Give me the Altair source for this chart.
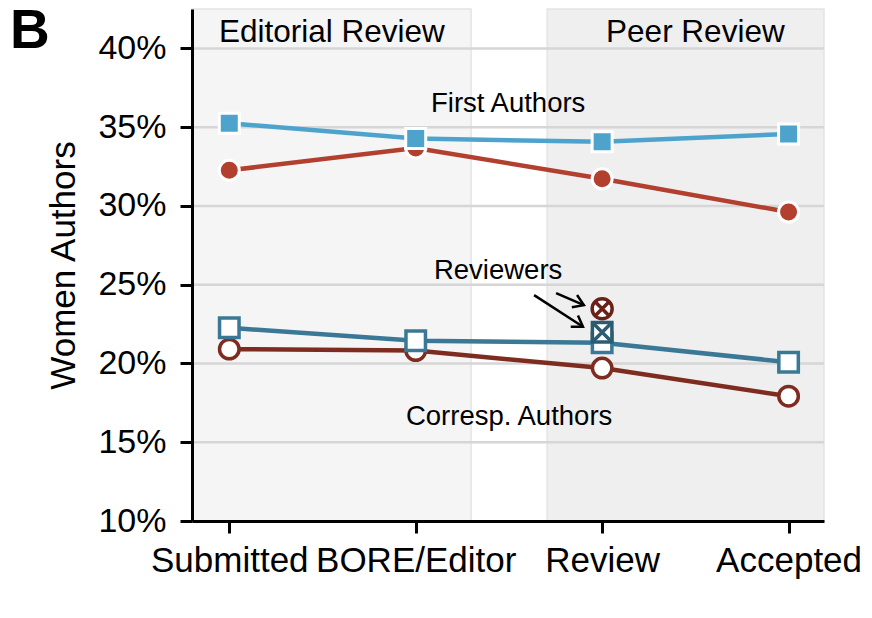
import json
import altair as alt
import pandas as pd

# ---------------- data ----------------
stages = ["Submitted", "BORE/Editor", "Review", "Accepted"]
stage_pos = [0, 1, 2, 3]

first_sq = [35.25, 34.28, 34.07, 34.57]      # First Authors, blue filled squares
first_ci = [32.26, 33.68, 31.72, 29.61]      # First Authors, red filled circles
corr_sq = [22.26, 21.44, 21.32, 20.08]       # Corresp. Authors, blue open squares
corr_ci = [20.91, 20.82, 19.71, 17.92]       # Corresp. Authors, red open circles
reviewer_ci = 23.47                          # Reviewers (red, at Review)
reviewer_sq = 21.98                          # Reviewers (blue, at Review)

y_ticks = [10, 15, 20, 25, 30, 35, 40]
grid_vals = [15, 20, 25, 30, 35, 40]

X_DOMAIN = [-0.2, 3.19]
Y_DOMAIN = [10, 42.5]
W, H = 632, 512
FONT = "Liberation Sans"

C_FIRST_SQ = "#4ea3cd"
C_FIRST_CI = "#b33f2f"
C_CORR_SQ = "#3a7896"
C_CORR_CI = "#7e2c20"
C_REV_CI = "#6a2218"
C_REV_SQ = "#2d5c72"

xs = alt.Scale(domain=X_DOMAIN, nice=False, zero=False)
ys = alt.Scale(domain=Y_DOMAIN, nice=False, zero=False)

x_axis = alt.Axis(
    values=stage_pos,
    labelExpr=json.dumps(stages) + "[datum.value]",
    title=None, grid=False, labelOverlap=False, labelFlush=False, labelBound=False,
    labelLimit=0,
    labelFont=FONT, labelFontSize=35, labelColor="black", labelPadding=10,
    domainColor="black", domainWidth=3, tickColor="black", tickWidth=3, tickSize=12,
    zindex=1,
)
y_axis = alt.Axis(
    values=y_ticks,
    labelExpr="datum.value + '%'",
    title="Women Authors", grid=False, labelOverlap=False, labelFlush=False,
    labelLimit=0,
    labelFont=FONT, labelFontSize=34, labelColor="black", labelPadding=14,
    titleFont=FONT, titleFontSize=35, titleFontWeight="normal", titleColor="black",
    titlePadding=16,
    domainColor="black", domainWidth=3, tickColor="black", tickWidth=3, tickSize=12,
    zindex=1,
)

def X(field="x"):
    return alt.X(f"{field}:Q", scale=xs, axis=x_axis)

def Y(field="y"):
    return alt.Y(f"{field}:Q", scale=ys, axis=y_axis)

# ---------------- background panels ----------------
panels = pd.DataFrame({
    "x": [X_DOMAIN[0], 1.705],
    "x2": [1.297, X_DOMAIN[1]],
    "y": [Y_DOMAIN[0]] * 2,
    "y2": [Y_DOMAIN[1]] * 2,
    "c": ["#f5f5f5", "#efefef"],
})
shade = alt.Chart(panels).mark_rect(stroke="#e4e4e4", strokeWidth=1.5).encode(
    x=X("x"), x2="x2", y=Y("y"), y2="y2",
    fill=alt.Fill("c:N", scale=None),
)

grid = alt.Chart(pd.DataFrame({"y": grid_vals})).mark_rule(
    color="#d6d6d6", strokeWidth=2.5
).encode(y=Y("y"))

# ---------------- series ----------------
def series(vals, color, shape, filled, size):
    df = pd.DataFrame({"x": stage_pos, "y": vals})
    line = alt.Chart(df).mark_line(color=color, strokeWidth=4.5).encode(x=X(), y=Y())
    if filled:
        pts = alt.Chart(df).mark_point(
            shape=shape, filled=True, fill=color, stroke="white", strokeWidth=3,
            size=size, opacity=1,
        ).encode(x=X(), y=Y())
    else:
        pts = alt.Chart(df).mark_point(
            shape=shape, filled=True, fill="white", stroke=color, strokeWidth=3.5,
            size=size, opacity=1,
        ).encode(x=X(), y=Y())
    return [line, pts]

layers = [shade, grid]
layers += series(first_ci, C_FIRST_CI, "circle", True, 400)
layers += series(first_sq, C_FIRST_SQ, "square", True, 400)
layers += series(corr_ci, C_CORR_CI, "circle", False, 380)
layers += series(corr_sq, C_CORR_SQ, "square", False, 380)

# ---------------- reviewers ----------------
rev_ci = pd.DataFrame({"x": [2], "y": [reviewer_ci]})
rev_sq = pd.DataFrame({"x": [2], "y": [reviewer_sq]})
XPATH_C = "M-0.72,-0.72L0.72,0.72M-0.72,0.72L0.72,-0.72"
XPATH_S = "M-1,-1L1,1M-1,1L1,-1"
layers += [
    alt.Chart(rev_ci).mark_point(shape="circle", filled=True, fill="white", stroke=C_REV_CI,
                                 strokeWidth=3.5, size=400, opacity=1).encode(x=X(), y=Y()),
    alt.Chart(rev_ci).mark_point(shape=XPATH_C, filled=False, stroke=C_REV_CI,
                                 strokeWidth=3.5, size=400, opacity=1).encode(x=X(), y=Y()),
    alt.Chart(rev_sq).mark_point(shape="square", filled=True, fill="white", stroke=C_REV_SQ,
                                 strokeWidth=3.5, size=380, opacity=1).encode(x=X(), y=Y()),
    alt.Chart(rev_sq).mark_point(shape=XPATH_S, filled=False, stroke=C_REV_SQ,
                                 strokeWidth=3.5, size=380, opacity=1).encode(x=X(), y=Y()),
]

# ---------------- arrows ----------------
arrows = pd.DataFrame({
    "x": [1.635, 1.753], "y": [24.34, 24.46],
    "x2": [1.897, 1.902], "y2": [22.33, 23.70],
    "ang": [33, 23],
})
layers += [
    alt.Chart(arrows).mark_rule(color="black", strokeWidth=2.5).encode(
        x=X("x"), y=Y("y"), x2="x2", y2="y2"),
    alt.Chart(arrows).mark_point(shape="M-1,-0.65L0,0L-1,0.65", filled=False, stroke="black",
                                 strokeWidth=2.5, size=420, opacity=1).encode(
        x=X("x2"), y=Y("y2"), angle=alt.Angle("ang:Q", scale=None)),
]

# ---------------- text annotations ----------------
def label(text, x, y, size, align="center"):
    df = pd.DataFrame({"x": [x], "y": [y], "t": [text]})
    return alt.Chart(df).mark_text(
        font=FONT, fontSize=size, color="black", align=align, baseline="alphabetic"
    ).encode(x=X(), y=Y(), text="t:N")

layers += [
    label("Editorial Review", 0.55, 40.42, 31.5),
    label("Peer Review", 2.5, 40.42, 31.5),
    label("First Authors", 1.496, 35.94, 27.5),
    label("Reviewers", 1.442, 25.35, 27.5),
    label("Corresp. Authors", 1.501, 16.12, 27.5),
]

panel_letter = alt.Chart(pd.DataFrame({"t": ["B"]})).mark_text(
    font=FONT, fontSize=55, fontWeight="bold", color="black", align="left",
    baseline="alphabetic",
).encode(x=alt.value(-182), y=alt.value(39), text="t:N")
layers.append(panel_letter)

chart = alt.layer(*layers).properties(
    width=W, height=H,
    autosize=alt.AutoSizeParams(type="none"),
    padding={"left": 184, "top": 1, "right": 40, "bottom": 80},
).configure_view(stroke=None)

chart.save("out.html", embed_options={"renderer": "svg", "actions": False})
